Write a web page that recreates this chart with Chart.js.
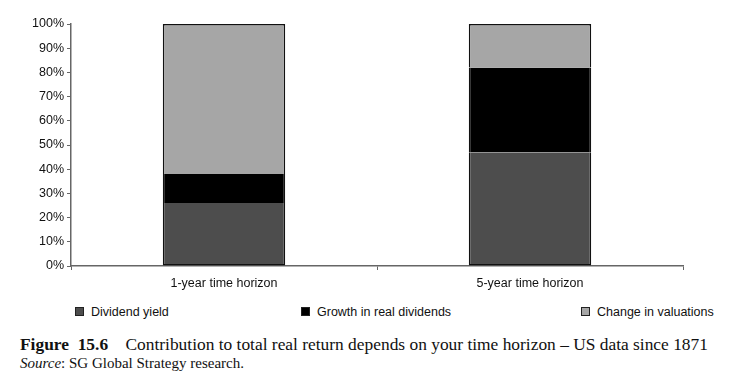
<!DOCTYPE html>
<html>
<head>
<meta charset="utf-8">
<script src="https://cdn.jsdelivr.net/npm/chart.js@4"></script>
<style>
  body { margin: 0; background: #fff; }
  #wrap { position: relative; width: 731px; height: 389px; overflow: hidden; }
  #chart-box { position: absolute; left: 0; top: 0; width: 731px; height: 300px; }
  .leg { position: absolute; top: 305px; font: 12.5px "Liberation Sans", Arial, sans-serif; color: #111; white-space: nowrap; }
  .leg span { display: inline-block; width: 7px; height: 7px; border: 1px solid #222; margin-right: 7px; vertical-align: 0px; }
  .cap { position: absolute; left: 20px; font-family: "Liberation Serif", "Times New Roman", serif; color: #111; white-space: nowrap; }
</style>
</head>
<body>
<div id="wrap">
  <div id="chart-box"><canvas id="returnChart"></canvas></div>
  <div class="leg" style="left:75px"><span style="background:#4d4d4d"></span>Dividend yield</div>
  <div class="leg" style="left:301px"><span style="background:#000"></span>Growth in real dividends</div>
  <div class="leg" style="left:581px"><span style="background:#a6a6a6"></span>Change in valuations</div>
  <div class="cap" style="top:334px;font-size:17.4px"><b>Figure&nbsp; 15.6</b>&nbsp;&nbsp;&nbsp; Contribution to total real return depends on your time horizon – US data since 1871</div>
  <div class="cap" style="top:355px;font-size:15px"><i>Source</i>: SG Global Strategy research.</div>
</div>
<script>
// categories and stacked shares (%)
const horizons = ['1-year time horizon', '5-year time horizon'];
const dividendYield = [26, 47];
const growthRealDividends = [12, 35];
const changeValuations = [62, 18];

const ctx = document.getElementById('returnChart').getContext('2d');
const chart = new Chart(ctx, {
    type: 'bar',
    data: {
        labels: horizons,
        datasets: [
            { label: 'Dividend yield', data: dividendYield, backgroundColor: '#4d4d4d',
              borderWidth: { top: 0, left: 1.5, right: 1.5, bottom: 1.5 } },
            { label: 'Growth in real dividends', data: growthRealDividends, backgroundColor: '#000000',
              borderWidth: { top: 0, left: 1.5, right: 1.5, bottom: 0 } },
            { label: 'Change in valuations', data: changeValuations, backgroundColor: '#a6a6a6',
              borderWidth: { top: 1.5, left: 1.5, right: 1.5, bottom: 0 } }
        ]
    },
    options: {
        responsive: true,
        maintainAspectRatio: false,
        animation: false,
        datasets: {
            bar: {
                borderColor: '#111',
                borderSkipped: false,
                categoryPercentage: 1,
                barPercentage: 0.4
            }
        },
        layout: { padding: { left: 0, top: 24, right: 48, bottom: 0 } },
        plugins: { legend: { display: false }, tooltip: { enabled: false } },
        scales: {
            x: {
                stacked: true,
                offset: true,
                border: { color: '#666', width: 1.5 },
                grid: { offset: true, drawOnChartArea: false, tickLength: 4, color: '#666' },
                ticks: { color: '#111', font: { family: 'Liberation Sans', size: 12.5 }, padding: 6 },
                afterFit: (scale) => { scale.height = 34; }
            },
            y: {
                stacked: true,
                min: 0,
                max: 100,
                border: { color: '#666', width: 1.5 },
                grid: { drawOnChartArea: false, tickLength: 4, color: '#666' },
                ticks: {
                    stepSize: 10,
                    padding: 3,
                    color: '#111',
                    font: { family: 'Liberation Sans', size: 12.5 },
                    callback: (v) => v + '%'
                },
                afterFit: (scale) => { scale.width = 71; }
            }
        }
    }
});
</script>
</body>
</html>
